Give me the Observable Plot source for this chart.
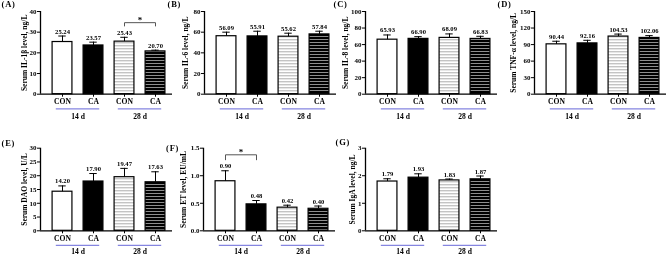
<!DOCTYPE html>
<html><head><meta charset="utf-8">
<script src="https://cdn.jsdelivr.net/npm/d3@7"></script>
<script src="https://cdn.jsdelivr.net/npm/@observablehq/plot@0.6"></script>
<style>
body{margin:0;background:#fff}
#fig{position:relative;width:669px;height:255px;overflow:hidden;background:#fff}
#fig svg{position:absolute;overflow:visible;will-change:transform}
</style></head><body>
<svg width="0" height="0" style="position:absolute">
<defs>
<pattern id="pCon28" patternUnits="userSpaceOnUse" width="4" height="3">
<rect width="4" height="3" fill="#ffffff"/><rect width="4" height="1.4" fill="#c4c4c4"/>
</pattern>
<pattern id="pCa28" patternUnits="userSpaceOnUse" width="4" height="3">
<rect width="4" height="3" fill="#000000"/><rect width="4" height="1" fill="#8e8e8e"/>
</pattern>
</defs></svg>
<div id="fig"></div>
<script>
// ---- data ----
const treatments = ["CON", "CA", "CON", "CA"];
const periods = ["14 d", "28 d"];
const panelLetters = ["(A)", "(B)", "(C)", "(D)", "(E)", "(F)", "(G)"];
const yLabels = ["Serum IL-1β level, ng/L", "Serum IL-6 level, ng/L", "Serum IL-8 level, ng/L",
  "Serum TNF-α level, ng/L", "Serum DAO level, U/L", "Serum ET level, EU/mL", "Serum IgA level, ng/L"];

const il1b = [25.24, 23.57, 25.43, 20.70];   const il1bSd = [2.9, 1.6, 2.1, 0.6];
const il6  = [56.09, 55.91, 55.62, 57.84];   const il6Sd  = [3.9, 5.0, 3.4, 3.1];
const il8  = [65.93, 66.90, 68.09, 66.83];   const il8Sd  = [5.7, 2.7, 4.8, 3.2];
const tnf  = [90.44, 92.16, 104.53, 102.06]; const tnfSd  = [5.6, 5.6, 4.5, 4.2];
const dao  = [14.20, 17.90, 19.47, 17.63];   const daoSd  = [2.1, 2.9, 3.2, 3.8];
const et   = [0.90, 0.48, 0.42, 0.40];       const etSd   = [0.19, 0.07, 0.045, 0.05];
const iga  = [1.79, 1.93, 1.83, 1.87];       const igaSd  = [0.10, 0.14, 0.05, 0.12];

const ticksA = [0, 10, 20, 30, 40];
const ticksB = [0, 20, 40, 60, 80];
const ticksC = [0, 20, 40, 60, 80, 100];
const ticksD = [0, 30, 60, 90, 120, 150];
const ticksE = [0, 5, 10, 15, 20, 25, 30];
const ticksF = [0, 0.5, 1.0, 1.5];
const ticksG = [0, 1, 2, 3];

// significance brackets: bar indices, lower and upper level, label
const bracketA = {from: 3, to: 4, low: 33.0, high: 34.6, mark: "*"};
const bracketF = {from: 1, to: 2, low: 1.29, high: 1.38, mark: "*"};

// ---- styles / layout (not data) ----
const barFills = ["white", "black", "url(#pCon28)", "url(#pCa28)"];
const groupLineColor = "#8585e0";
const font = "'Liberation Serif', 'Times New Roman', serif";

const panels = [
  {means: il1b, sds: il1bSd, ticks: ticksA, tf: "d",   bracket: bracketA},
  {means: il6,  sds: il6Sd,  ticks: ticksB, tf: "d",   bracket: null},
  {means: il8,  sds: il8Sd,  ticks: ticksC, tf: "d",   bracket: null},
  {means: tnf,  sds: tnfSd,  ticks: ticksD, tf: "d",   bracket: null},
  {means: dao,  sds: daoSd,  ticks: ticksE, tf: "d",   bracket: null},
  {means: et,   sds: etSd,   ticks: ticksF, tf: ".1f", bracket: bracketF},
  {means: iga,  sds: igaSd,  ticks: ticksG, tf: "d",   bracket: null},
];
const layout = [
  {left: 0,   top: 0,   h: 127, mt: 11,   mb: 33.3, labelDx: -16,   letterDx: -39, letterDy: -7,   lineDy: 14.6, grpDy: 22.3},
  {left: 164, top: 0,   h: 127, mt: 11,   mb: 33.3, labelDx: -18.5, letterDx: -37, letterDy: -7,   lineDy: 14.6, grpDy: 22.3},
  {left: 325, top: 0,   h: 127, mt: 11,   mb: 33.3, labelDx: -19.5, letterDx: -32, letterDy: -7,   lineDy: 14.6, grpDy: 22.3},
  {left: 494, top: 0,   h: 127, mt: 11,   mb: 33.3, labelDx: -21,   letterDx: -37, letterDy: -7,   lineDy: 14.6, grpDy: 22.3},
  {left: 0,   top: 127, h: 128, mt: 20.7, mb: 24.7, labelDx: -16,   letterDx: -39, letterDy: -4.7, lineDy: 14.6, grpDy: 20.6},
  {left: 163, top: 127, h: 128, mt: 20.7, mb: 24.7, labelDx: -19.5, letterDx: -37.5, letterDy: 0.5, lineDy: 14.6, grpDy: 20.6},
  {left: 325, top: 127, h: 128, mt: 20.7, mb: 24.7, labelDx: -12.5, letterDx: -30, letterDy: -5.5, lineDy: 14.6, grpDy: 20.6},
];

const fmt2 = d3.format(".2f");
const fig = document.getElementById("fig");
const xDomain = [0.29, 4.548];
const bw = 0.32, cap = 0.12;

panels.forEach((p, k) => {
  const L = layout[k];
  const rows = treatments.map((t, j) => ({i: j + 1, t, mean: p.means[j], sd: p.sds[j], fill: barFills[j]}));
  const groups = periods.map((name, g) => ({name, start: 2 * g + 1, end: 2 * g + 2}));
  const ymax = p.ticks[p.ticks.length - 1];
  const tfmt = d3.format(p.tf);
  const marks = [
    Plot.rectY(rows, {x1: d => d.i - bw, x2: d => d.i + bw, y: "mean", fill: "fill", stroke: "black", strokeWidth: 1.2}),
    Plot.ruleX(rows, {x: "i", y1: "mean", y2: d => d.mean + d.sd, stroke: "black", strokeWidth: 1}),
    Plot.ruleY(rows, {y: d => d.mean + d.sd, x1: d => d.i - cap, x2: d => d.i + cap, stroke: "black", strokeWidth: 1}),
    Plot.text(rows, {x: "i", y: d => d.mean + d.sd, text: d => fmt2(d.mean), dy: -4.6, lineAnchor: "middle", fontSize: 6.6, fill: "black"}),
    Plot.ruleX([xDomain[0]], {y1: 0, y2: ymax, stroke: "black", strokeWidth: 1.3}),
    Plot.ruleY([0], {stroke: "black", strokeWidth: 1.3}),
    Plot.axisY(p.ticks, {tickSize: 3, tickPadding: 1, tickFormat: tfmt, fontSize: 7, label: null}),
    Plot.axisX([1, 2, 3, 4], {tickSize: 3, tickPadding: 1.5, tickFormat: i => treatments[i - 1], fontSize: 7.6, label: null}),
    Plot.ruleY(groups, {y: 0, x1: d => d.start - 0.2, x2: d => d.end + 0.2, dy: L.lineDy, stroke: groupLineColor, strokeWidth: 1.3}),
    Plot.text(groups, {x: d => (d.start + d.end) / 2, y: 0, dy: L.grpDy, text: "name", fontSize: 7.6, lineAnchor: "middle", fill: "black"}),
    Plot.text([yLabels[k]], {frameAnchor: "left", rotate: -90, dx: L.labelDx, text: d => d, fontSize: 7.5, textAnchor: "middle", lineAnchor: "middle", fill: "black"}),
    Plot.text([panelLetters[k]], {frameAnchor: "top-left", dx: L.letterDx, dy: L.letterDy, text: d => d, textAnchor: "start", lineAnchor: "middle", fontSize: 8.5, fill: "black"})
  ];
  if (p.bracket) {
    const b = p.bracket;
    const pts = [{x: b.from, y: b.low}, {x: b.from, y: b.high}, {x: b.to, y: b.high}, {x: b.to, y: b.low}];
    marks.push(Plot.line(pts, {x: "x", y: "y", stroke: "#555", strokeWidth: 1}));
    marks.push(Plot.text([b], {x: d => (d.from + d.to) / 2, y: "high", text: "mark", dy: -2.5, lineAnchor: "middle", fontSize: 9, fill: "black"}));
  }
  const svg = Plot.plot({
    width: 175, height: L.h,
    marginLeft: 40, marginRight: 3, marginTop: L.mt, marginBottom: L.mb,
    x: {domain: xDomain, axis: null},
    y: {domain: [0, ymax], axis: null},
    color: {type: "identity"},
    style: {fontFamily: font, fontWeight: "bold", background: "transparent", color: "black"},
    marks
  });
  svg.style.left = L.left + "px";
  svg.style.top = L.top + "px";
  svg.querySelectorAll("text").forEach(t => { if (t.textContent === panelLetters[k]) t.style.letterSpacing = "0.8px"; });
  fig.appendChild(svg);
});
</script>
</body></html>
